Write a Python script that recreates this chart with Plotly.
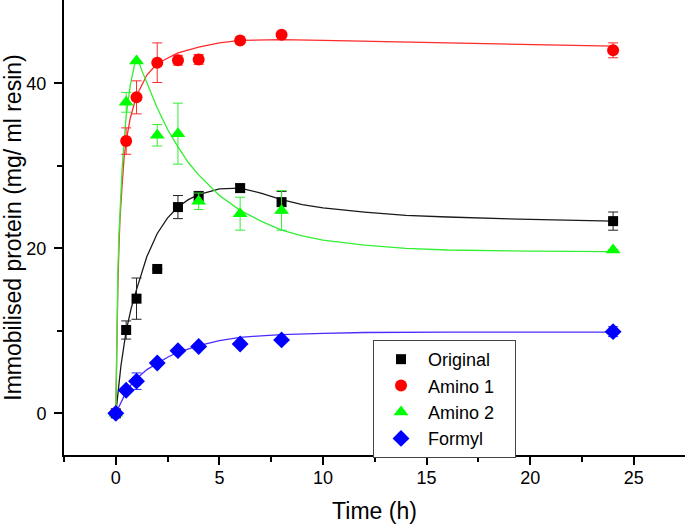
import plotly.graph_objects as go

# ---- measured data ----
time_h = [0, 0.5, 1, 2, 3, 4, 6, 8, 24]

original = [0, 10.1, 13.9, 17.5, 25.0, 26.3, 27.3, 25.6, 23.3]
original_err = [None, 1.1, 2.5, None, 1.4, 0.6, 0.5, 1.3, 1.1]

amino1 = [0, 33.0, 38.3, 42.5, 42.8, 42.9, 45.2, 45.9, 44.0]
amino1_err = [None, 1.6, 2.0, 2.4, 0.6, 0.6, None, None, 0.9]

amino2 = [0, 37.7, 42.7, 33.7, 33.9, 25.7, 24.2, 24.6, 19.8]
amino2_err = [None, 1.2, None, 1.3, 3.7, 1.0, 2.0, 2.4, None]

formyl = [0, 2.8, 3.9, 6.1, 7.6, 8.1, 8.4, 8.9, 9.9]
formyl_err = [None, None, 1.0, None, None, None, None, None, 0.6]

# ---- fitted curves ----
fit_x_original = [0, 0.1, 0.25, 0.5, 0.75, 1, 1.5, 2, 2.5, 3, 3.5, 4, 5, 6, 7, 8, 9, 10, 12, 14, 16, 20, 24]
fit_y_original = [0, 2.5, 5.8, 10.0, 12.8, 15.0, 19.0, 21.8, 23.7, 25.0, 25.9, 26.5, 27.2, 27.3, 26.7, 25.9, 25.3, 24.9, 24.4, 24.0, 23.8, 23.5, 23.3]

fit_x_amino1 = [0, 0.05, 0.1, 0.15, 0.2, 0.3, 0.4, 0.5, 0.7, 1, 1.5, 2, 3, 4, 5, 6, 8, 10, 12, 16, 20, 24]
fit_y_amino1 = [0, 9.5, 15.5, 20.0, 23.5, 27.5, 31.0, 33.0, 35.8, 38.5, 41.0, 42.4, 43.7, 44.4, 44.9, 45.2, 45.3, 45.2, 45.1, 44.9, 44.7, 44.5]

fit_x_amino2 = [0, 0.05, 0.1, 0.15, 0.2, 0.3, 0.4, 0.5, 0.7, 0.85, 1, 1.25, 1.5, 2, 2.5, 3, 3.5, 4, 5, 6, 7, 8, 9, 10, 12, 14, 16, 20, 24]
fit_y_amino2 = [0, 10.5, 17.0, 21.5, 25.0, 29.5, 33.0, 36.0, 39.8, 41.8, 43.4, 41.6, 40.0, 37.0, 34.4, 32.3, 30.4, 28.9, 26.4, 24.6, 23.3, 22.2, 21.5, 21.0, 20.4, 20.0, 19.8, 19.65, 19.6]

fit_x_formyl = [0, 0.25, 0.5, 0.75, 1, 1.5, 2, 2.5, 3, 4, 5, 6, 7, 8, 10, 12, 16, 20, 24]
fit_y_formyl = [0, 1.4, 2.6, 3.5, 4.2, 5.3, 6.1, 6.8, 7.4, 8.2, 8.8, 9.2, 9.4, 9.55, 9.7, 9.8, 9.85, 9.85, 9.85]

series_names = ["Original", "Amino 1", "Amino 2", "Formyl"]

FONT = "Liberation Sans, Arial, sans-serif"
PAD = "\u00a0\u00a0\u00a0"

fig = go.Figure()

curves = [
    (fit_x_original, fit_y_original, "#1a1a1a"),
    (fit_x_amino1, fit_y_amino1, "#ff2a2a"),
    (fit_x_amino2, fit_y_amino2, "#33ee33"),
    (fit_x_formyl, fit_y_formyl, "#4a2cff"),
]
for cx, cy, col in curves:
    fig.add_trace(go.Scatter(x=cx, y=cy, mode="lines", line=dict(color=col, width=1.3),
                             showlegend=False, hoverinfo="skip"))

points = [
    (original, original_err, "#000000", "#222222", "square", 10),
    (amino1, amino1_err, "#ff0000", "#ff2a2a", "circle", 12),
    (amino2, amino2_err, "#00ff00", "#33ee33", "triangle-up", 13),
    (formyl, formyl_err, "#0000ff", "#2a2aff", "diamond", 13),
]
for name, (vals, errs, mcol, ecol, sym, sz) in zip(series_names, points):
    fig.add_trace(go.Scatter(
        x=time_h, y=vals, mode="markers", name=name + PAD,
        marker=dict(color=mcol, symbol=sym, size=sz, line=dict(width=0)),
        error_y=dict(type="data", array=errs, visible=True, color=ecol, thickness=1, width=5),
    ))

fig.update_layout(
    width=685, height=526,
    margin=dict(l=64, r=0, t=0, b=71, autoexpand=False),
    paper_bgcolor="white", plot_bgcolor="white",
    font=dict(family=FONT, color="black", size=18),
    legend=dict(
        x=0.4976, y=0.2528, xanchor="left", yanchor="top",
        bordercolor="#444444", borderwidth=1, bgcolor="white",
        font=dict(size=18, family=FONT), itemwidth=44,
        tracegroupgap=0,
    ),
    xaxis=dict(
        range=[-2.5, 27.47], showgrid=False, zeroline=False, automargin=False,
        showline=True, linecolor="black", linewidth=2,
        ticks="outside", ticklen=8, tickwidth=1.5, tickcolor="black",
        tick0=0, dtick=5, ticklabelstandoff=-3,
        minor=dict(ticks="outside", ticklen=5, tickwidth=1.5, tickcolor="black", dtick=2.5, tick0=0),
        tickfont=dict(size=18, family=FONT),
        title=dict(text="Time (h)", font=dict(size=23, family=FONT), standoff=16),
    ),
    yaxis=dict(
        range=[-5.05, 50.1], showgrid=False, zeroline=False, automargin=False,
        showline=True, linecolor="black", linewidth=2,
        ticks="outside", ticklen=8, tickwidth=1.5, tickcolor="black",
        tickvals=[0, 20, 40], ticklabelstandoff=4,
        minor=dict(ticks="outside", ticklen=5, tickwidth=1.5, tickcolor="black", tickvals=[10, 30]),
        tickfont=dict(size=18, family=FONT),
        title=dict(text="Immobilised protein (mg/ ml resin)", font=dict(size=23, family=FONT), standoff=10),
    ),
)

fig.write_html("out.html", config={"displayModeBar": False},
               post_script="document.body.style.margin='0px';")
